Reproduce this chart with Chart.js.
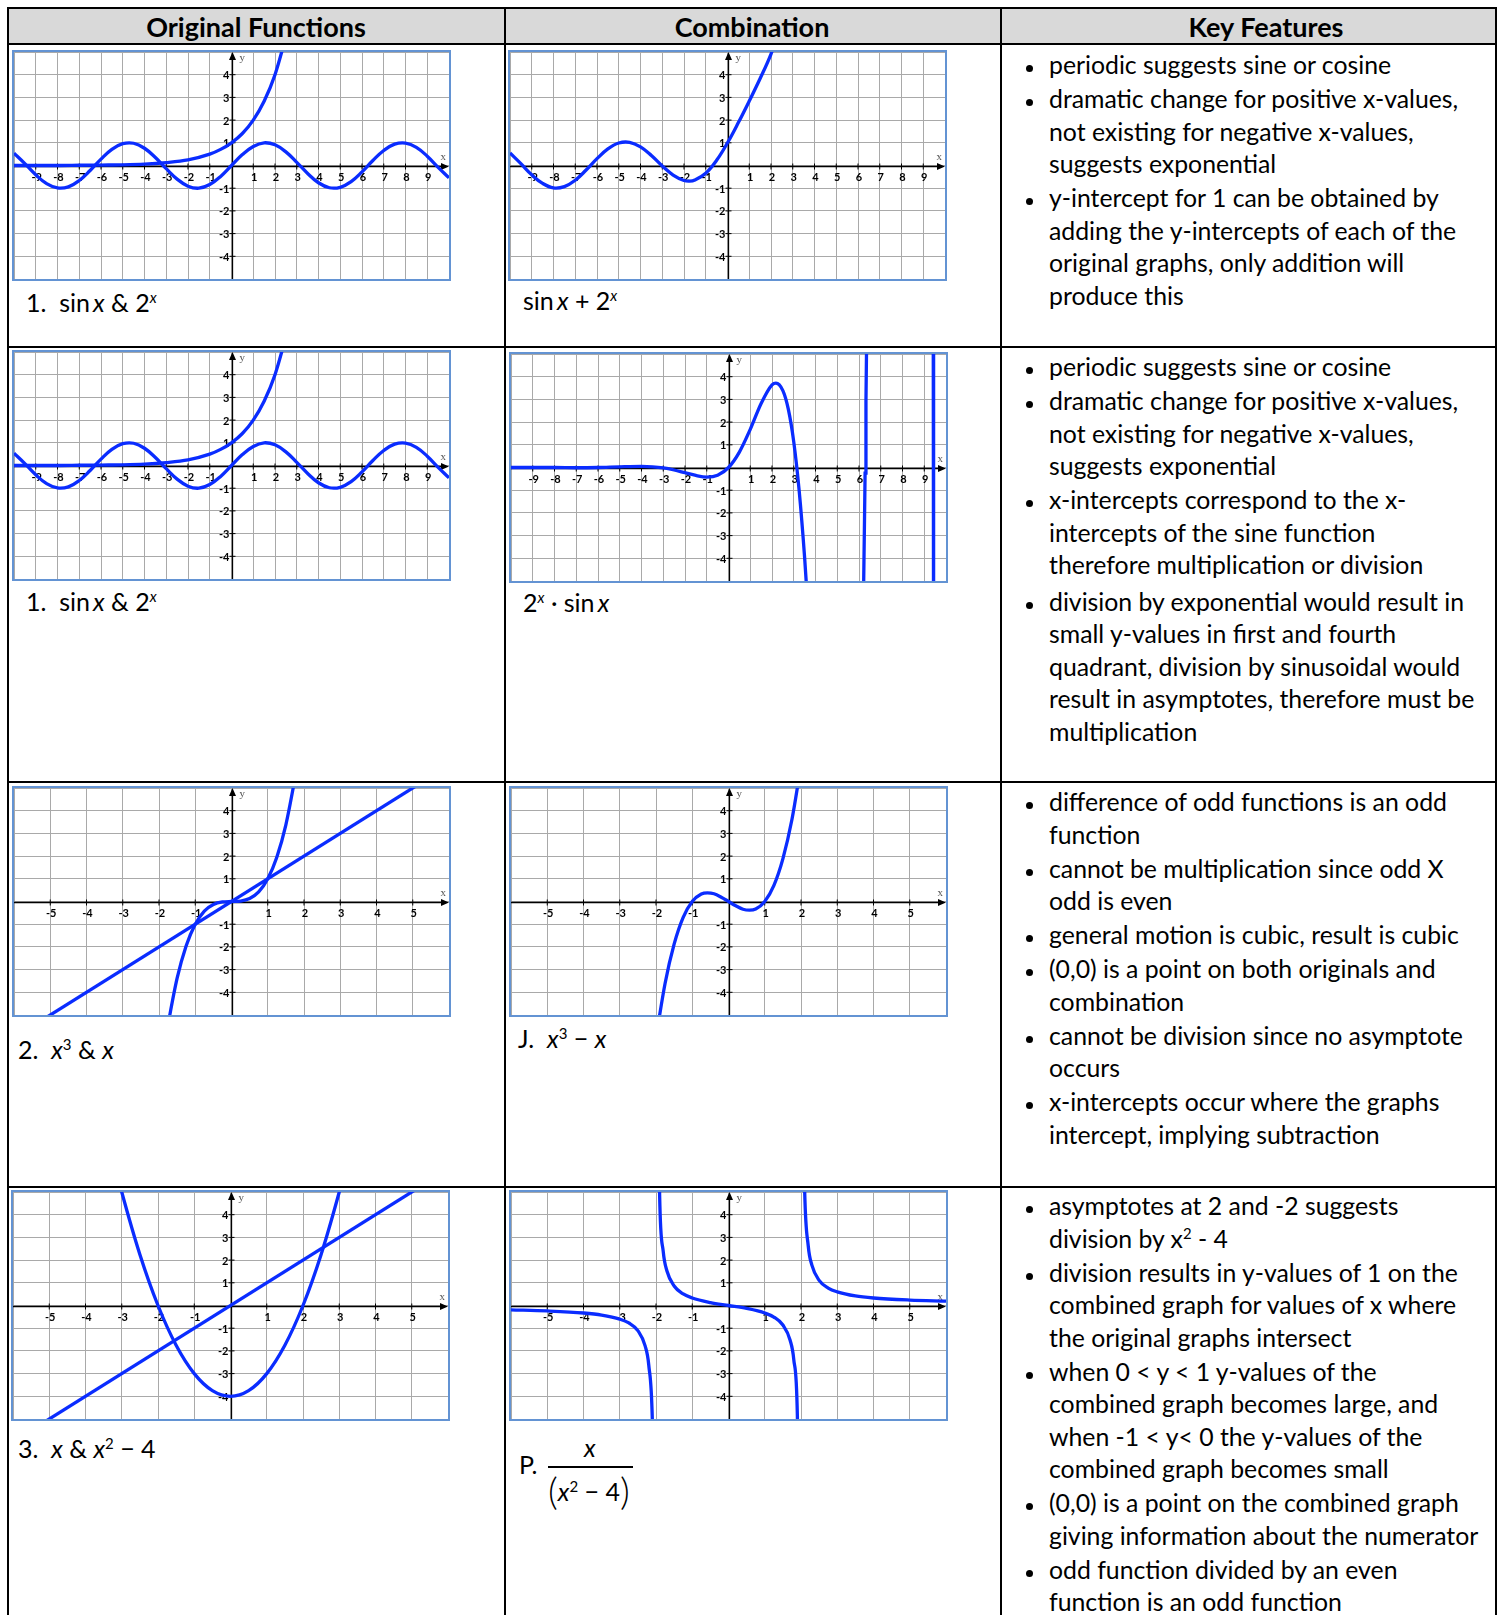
<!DOCTYPE html>
<html>
<head>
<meta charset="utf-8">
<script src="https://cdn.jsdelivr.net/npm/chart.js@4.4.1/dist/chart.umd.min.js"></script>
<style>
html, body { margin: 0; padding: 0; background: #fff; }
body { width: 1502px; height: 1615px; position: relative; overflow: hidden; font-family: Lato, "Open Sans", sans-serif; color: #000; }
.hl, .vl { position: absolute; background: #000; }
.hl { left: 7px; width: 1490px; height: 2px; }
.vl { top: 7px; width: 2px; height: 1608px; }
.head { position: absolute; top: 9px; left: 9px; width: 1486px; height: 35px; background: #d9d9d9; }
.ht { position: absolute; top: 9px; height: 35px; line-height: 35px; font-weight: bold; font-size: 27px; transform: translateX(-50%); white-space: nowrap; }
.box { position: absolute; border: 2px solid #6393d3; }
.box canvas { display: block; }
.lab { position: absolute; font-size: 25px; line-height: 30px; white-space: nowrap; }
sup { font-size: 60%; position: relative; top: -0.6em; vertical-align: baseline; line-height: 0; }
.frac { position: absolute; font-size: 25px; line-height: 30px; white-space: nowrap; }
.bar { position: absolute; height: 1.5px; background: #000; }
.paren { font-size: 38px; font-weight: 300; position: relative; top: 4px; }
.keys { position: absolute; left: 1049px; margin: 0; padding: 0; list-style: none; font-size: 24.8px; line-height: 32.5px; white-space: nowrap; }
.keys li { position: relative; margin-top: 1.5px; }
.keys li:first-child { margin-top: 0; }
.keys li.gap { margin-top: 4px; }
.keys li::before { content: ""; position: absolute; left: -23px; top: 16px; width: 7px; height: 7px; border-radius: 50%; background: #000; }
</style>
</head>
<body>

<div class="head"></div>
<div class="ht" style="left:256px">Original Functions</div>
<div class="ht" style="left:752px">Combination</div>
<div class="ht" style="left:1266px">Key Features</div>

<div class="hl" style="top:7px"></div>
<div class="hl" style="top:43px"></div>
<div class="hl" style="top:346px"></div>
<div class="hl" style="top:781px"></div>
<div class="hl" style="top:1186px"></div>
<div class="vl" style="left:7px"></div>
<div class="vl" style="left:504px"></div>
<div class="vl" style="left:1000px"></div>
<div class="vl" style="left:1495px"></div>

<div class="box" style="left:12px;top:50px"><canvas id="g1" width="435" height="227"></canvas></div>
<div class="box" style="left:508px;top:50px"><canvas id="g2" width="435" height="227"></canvas></div>
<div class="box" style="left:12px;top:350px"><canvas id="g3" width="435" height="227"></canvas></div>
<div class="box" style="left:509px;top:352px"><canvas id="g4" width="435" height="227"></canvas></div>
<div class="box" style="left:12px;top:786px"><canvas id="g5" width="435" height="227"></canvas></div>
<div class="box" style="left:509px;top:786px"><canvas id="g6" width="435" height="227"></canvas></div>
<div class="box" style="left:11px;top:1190px"><canvas id="g7" width="435" height="227"></canvas></div>
<div class="box" style="left:509px;top:1190px"><canvas id="g8" width="435" height="227"></canvas></div>

<div class="lab" style="left:26px;top:287px">1.&nbsp; sin&thinsp;<i>x</i> &amp; 2<sup><i>x</i></sup></div>
<div class="lab" style="left:523px;top:285px">sin&thinsp;<i>x</i> + 2<sup><i>x</i></sup></div>
<div class="lab" style="left:26px;top:586px">1.&nbsp; sin&thinsp;<i>x</i> &amp; 2<sup><i>x</i></sup></div>
<div class="lab" style="left:523px;top:587px">2<sup><i>x</i></sup> &middot; sin&thinsp;<i>x</i></div>
<div class="lab" style="left:18px;top:1034px">2.&nbsp; <i>x</i><sup>3</sup> &amp; <i>x</i></div>
<div class="lab" style="left:518px;top:1023px">J.&nbsp; <i>x</i><sup>3</sup> &minus; <i>x</i></div>
<div class="lab" style="left:18px;top:1433px">3.&nbsp; <i>x</i> &amp; <i>x</i><sup>2</sup> &minus; 4</div>
<div class="lab" style="left:519px;top:1449px">P.</div>
<div class="frac" style="left:584px;top:1432px"><i>x</i></div>
<div class="bar" style="left:548px;top:1466px;width:85px"></div>
<div class="frac" style="left:548px;top:1471px"><span class="paren">(</span><i>x</i><sup>2</sup> &minus; 4<span class="paren">)</span></div>

<ul class="keys" style="top:49px">
  <li>periodic suggests sine or cosine</li>
  <li>dramatic change for positive x-values,<br>not existing for negative x-values,<br>suggests exponential</li>
  <li>y-intercept for 1 can be obtained by<br>adding the y-intercepts of each of the<br>original graphs, only addition will<br>produce this</li>
</ul>
<ul class="keys" style="top:351px">
  <li>periodic suggests sine or cosine</li>
  <li>dramatic change for positive x-values,<br>not existing for negative x-values,<br>suggests exponential</li>
  <li>x-intercepts correspond to the x-<br>intercepts of the sine function<br>therefore multiplication or division</li>
  <li class="gap">division by exponential would result in<br>small y-values in first and fourth<br>quadrant, division by sinusoidal would<br>result in asymptotes, therefore must be<br>multiplication</li>
</ul>
<ul class="keys" style="top:786px">
  <li>difference of odd functions is an odd<br>function</li>
  <li>cannot be multiplication since odd X<br>odd is even</li>
  <li>general motion is cubic, result is cubic</li>
  <li>(0,0) is a point on both originals and<br>combination</li>
  <li>cannot be division since no asymptote<br>occurs</li>
  <li>x-intercepts occur where the graphs<br>intercept, implying subtraction</li>
</ul>
<ul class="keys" style="top:1190px">
  <li>asymptotes at 2 and -2 suggests<br>division by x<sup>2</sup> - 4</li>
  <li>division results in y-values of 1 on the<br>combined graph for values of x where<br>the original graphs intersect</li>
  <li>when 0 &lt; y &lt; 1 y-values of the<br>combined graph becomes large, and<br>when -1 &lt; y&lt; 0 the y-values of the<br>combined graph becomes small</li>
  <li>(0,0) is a point on the combined graph<br>giving information about the numerator</li>
  <li>odd function divided by an even<br>function is an odd function</li>
</ul>

<script>
// axis windows
const wideX = [-10, 10];
const narrowX = [-6, 6];
const allY = [-5, 5];

// sin x, read every half unit
const waveX = [-10, -9.5, -9, -8.5, -8, -7.5, -7, -6.5, -6, -5.5, -5, -4.5, -4, -3.5, -3, -2.5, -2, -1.5, -1, -0.5,
  0, 0.5, 1, 1.5, 2, 2.5, 3, 3.5, 4, 4.5, 5, 5.5, 6, 6.5, 7, 7.5, 8, 8.5, 9, 9.5, 10];
const sinY = [0.54, 0.08, -0.41, -0.80, -0.99, -0.94, -0.66, -0.22, 0.28, 0.71, 0.96, 0.98, 0.76, 0.35, -0.14, -0.60, -0.91, -1.00, -0.84, -0.48,
  0, 0.48, 0.84, 1.00, 0.91, 0.60, 0.14, -0.35, -0.76, -0.98, -0.96, -0.71, -0.28, 0.22, 0.66, 0.94, 0.99, 0.80, 0.41, -0.08, -0.54];

// 2^x
const expX = [-10, -9, -8, -7, -6, -5, -4, -3, -2, -1, -0.5, 0, 0.5, 1, 1.5, 2, 2.5];
const expY = [0.00, 0.00, 0.00, 0.01, 0.02, 0.03, 0.06, 0.13, 0.25, 0.50, 0.71, 1.00, 1.41, 2.00, 2.83, 4.00, 5.66];

// sin x + 2^x
const sumX = [-10, -9.5, -9, -8.5, -8, -7.5, -7, -6.5, -6, -5.5, -5, -4.5, -4, -3.5, -3, -2.5, -2, -1.75, -1.5, -1, -0.5, 0, 0.5, 1, 1.5, 2, 2.5];
const sumY = [0.55, 0.08, -0.41, -0.79, -0.99, -0.93, -0.65, -0.20, 0.30, 0.73, 0.99, 1.02, 0.82, 0.44, -0.02, -0.42, -0.66, -0.69, -0.64, -0.34, 0.23, 1.00, 1.89, 2.84, 3.83, 4.91, 6.25];

// 2^x * sin x, three visible pieces
const prodX = [-10, -9, -8, -7, -6, -5, -4, -3.5, -3, -2.5, -2, -1.5, -1, -0.5, 0, 0.5, 1, 1.5, 2, 2.18, 2.5, 2.75, 3, 3.25, 3.5, 3.7];
const prodY = [0.00, 0.00, 0.00, -0.01, 0.00, 0.03, 0.05, 0.03, -0.02, -0.11, -0.23, -0.35, -0.42, -0.34, 0, 0.68, 1.68, 2.82, 3.64, 3.72, 3.39, 2.57, 1.13, -1.03, -3.97, -6.89];
const prodX2 = [6.2, 6.25, 6.28, 6.32, 6.36];
const prodY2 = [-6.11, -2.53, -0.25, 2.94, 6.31];
const prodX3 = [9.41, 9.42, 9.43, 9.44];
const prodY3 = [10.05, 3.27, -3.60, -10.6];

// x^3 and x
const cubeX = [-1.8, -1.5, -1.25, -1, -0.75, -0.5, -0.25, 0, 0.25, 0.5, 0.75, 1, 1.25, 1.5, 1.8];
const cubeY = [-5.83, -3.38, -1.95, -1, -0.42, -0.13, -0.02, 0, 0.02, 0.13, 0.42, 1, 1.95, 3.38, 5.83];
const lineX = [-6, 6];
const lineY = [-6, 6];

// x^3 - x
const diffX = [-2, -1.75, -1.5, -1.25, -1, -0.75, -0.58, -0.4, -0.2, 0, 0.2, 0.4, 0.58, 0.75, 1, 1.25, 1.5, 1.75, 2];
const diffY = [-6, -3.61, -1.88, -0.70, 0, 0.33, 0.38, 0.34, 0.19, 0, -0.19, -0.34, -0.38, -0.33, 0, 0.70, 1.88, 3.61, 6];

// x^2 - 4
const paraX = [-3.2, -3, -2.5, -2, -1.5, -1, -0.5, 0, 0.5, 1, 1.5, 2, 2.5, 3, 3.2];
const paraY = [6.24, 5, 2.25, 0, -1.75, -3, -3.75, -4, -3.75, -3, -1.75, 0, 2.25, 5, 6.24];

// x / (x^2 - 4), three branches
const ratioXL = [-6, -5, -4, -3.5, -3, -2.75, -2.5, -2.3, -2.2, -2.1, -2.05];
const ratioYL = [-0.19, -0.24, -0.33, -0.42, -0.60, -0.77, -1.11, -1.78, -2.62, -5.12, -10.12];
const ratioXM = [-1.96, -1.9, -1.8, -1.7, -1.5, -1.25, -1, -0.5, 0, 0.5, 1, 1.25, 1.5, 1.7, 1.8, 1.9, 1.96];
const ratioYM = [12.37, 4.87, 2.37, 1.53, 0.86, 0.51, 0.33, 0.13, 0, -0.13, -0.33, -0.51, -0.86, -1.53, -2.37, -4.87, -12.37];
const ratioXR = [2.05, 2.1, 2.2, 2.3, 2.5, 2.75, 3, 3.5, 4, 5, 6];
const ratioYR = [10.12, 5.12, 2.62, 1.78, 1.11, 0.77, 0.60, 0.42, 0.33, 0.24, 0.19];

const BLUE = '#0a2cff';
const GRID = '#a9a9a9';

function curve(xs, ys, mode) {
  return {
    data: xs.map((v, i) => ({ x: v, y: ys[i] })),
    showLine: true,
    pointRadius: 0,
    borderColor: BLUE,
    borderWidth: 3.3,
    fill: false,
    tension: mode === 'straight' ? 0 : 0.4,
    cubicInterpolationMode: mode === 'monotone' ? 'monotone' : 'default'
  };
}

// draws the axes through the origin, arrows, tick marks and tick labels
const axesPlugin = {
  id: 'axes',
  beforeDatasetsDraw(chart) {
    const { ctx, chartArea: a, scales: { x, y } } = chart;
    const x0 = Math.round(x.getPixelForValue(0)) + 0.5;
    const y0 = Math.round(y.getPixelForValue(0)) + 0.5;
    ctx.save();
    ctx.strokeStyle = '#000';
    ctx.fillStyle = '#000';
    ctx.lineWidth = 1.3;
    ctx.beginPath();
    ctx.moveTo(a.left, y0); ctx.lineTo(a.right - 3, y0);
    ctx.moveTo(x0, a.bottom); ctx.lineTo(x0, a.top + 3);
    ctx.stroke();
    ctx.beginPath();
    ctx.moveTo(a.right, y0); ctx.lineTo(a.right - 8, y0 - 3.5); ctx.lineTo(a.right - 8, y0 + 3.5); ctx.closePath();
    ctx.moveTo(x0, a.top); ctx.lineTo(x0 - 3.5, a.top + 8); ctx.lineTo(x0 + 3.5, a.top + 8); ctx.closePath();
    ctx.fill();

    ctx.lineWidth = 1;
    ctx.font = 'bold 11px Lato';
    ctx.textBaseline = 'middle';
    ctx.textAlign = 'center';
    x.ticks.forEach(t => {
      if (t.value === 0 || t.value <= x.min || t.value >= x.max) return;
      const px = x.getPixelForValue(t.value);
      ctx.beginPath(); ctx.moveTo(px, y0 - 3); ctx.lineTo(px, y0 + 3); ctx.stroke();
      ctx.fillText(String(t.value), px + 1, y0 + 11);
    });
    ctx.textAlign = 'right';
    y.ticks.forEach(t => {
      if (t.value === 0 || t.value <= y.min || t.value >= y.max) return;
      const py = y.getPixelForValue(t.value);
      ctx.beginPath(); ctx.moveTo(x0 - 3, py); ctx.lineTo(x0 + 3, py); ctx.stroke();
      ctx.fillText(String(t.value), x0 - 3, py + 1);
    });

    ctx.font = '11px "Liberation Serif"';
    ctx.fillStyle = '#555';
    ctx.textAlign = 'left';
    ctx.fillText('y', x0 + 7, a.top + 6);
    ctx.textAlign = 'right';
    ctx.fillText('x', a.right - 3, y0 - 9);
    ctx.restore();
  }
};

function graph(id, xRange, sets) {
  new Chart(document.getElementById(id), {
    type: 'scatter',
    data: { datasets: sets },
    options: {
      responsive: false,
      animation: false,
      devicePixelRatio: 1,
      events: [],
      layout: { padding: 0 },
      plugins: { legend: { display: false }, tooltip: { enabled: false } },
      scales: {
        x: {
          type: 'linear', min: xRange[0], max: xRange[1],
          ticks: { stepSize: 1, display: false },
          grid: { color: GRID, lineWidth: 1, drawTicks: false },
          border: { display: false }
        },
        y: {
          type: 'linear', min: allY[0], max: allY[1],
          ticks: { stepSize: 1, display: false },
          grid: { color: GRID, lineWidth: 1, drawTicks: false },
          border: { display: false }
        }
      }
    },
    plugins: [axesPlugin]
  });
}

graph('g1', wideX, [curve(waveX, sinY, 'spline'), curve(expX, expY, 'monotone')]);
graph('g2', wideX, [curve(sumX, sumY, 'spline')]);
graph('g3', wideX, [curve(waveX, sinY, 'spline'), curve(expX, expY, 'monotone')]);
graph('g4', wideX, [curve(prodX, prodY, 'monotone'), curve(prodX2, prodY2, 'straight'), curve(prodX3, prodY3, 'straight')]);
graph('g5', narrowX, [curve(lineX, lineY, 'straight'), curve(cubeX, cubeY, 'monotone')]);
graph('g6', narrowX, [curve(diffX, diffY, 'monotone')]);
graph('g7', narrowX, [curve(lineX, lineY, 'straight'), curve(paraX, paraY, 'monotone')]);
graph('g8', narrowX, [curve(ratioXL, ratioYL, 'monotone'), curve(ratioXM, ratioYM, 'monotone'), curve(ratioXR, ratioYR, 'monotone')]);
</script>
</body>
</html>
